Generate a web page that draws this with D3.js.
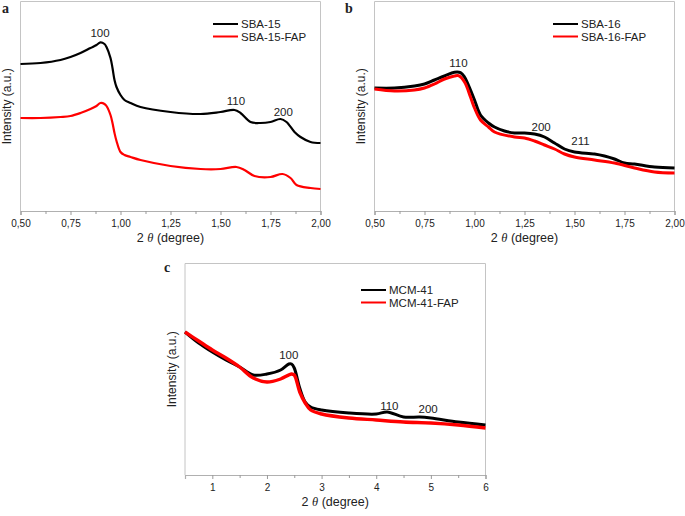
<!DOCTYPE html>
<html><head><meta charset="utf-8">
<script src="https://cdn.jsdelivr.net/npm/d3@7"></script>
<style>
html,body{margin:0;padding:0;background:#fff;}
svg{display:block;font-family:"Liberation Sans",Arial,sans-serif;}
</style></head>
<body>
<svg id="chart" width="685" height="516"></svg>
<script>
// ---------- Panel a (SBA-15) ----------
const aX = [0.50,0.60,0.70,0.75,0.80,0.85,0.88,0.90,0.92,0.93,0.95,0.96,0.97,0.98,1.00,1.02,1.05,1.10,1.25,1.40,1.50,1.57,1.60,1.65,1.70,1.75,1.80,1.83,1.87,1.90,1.95,2.00];
const aSBA15 = [147,148,151,154,158,163,166,168.7,167,164,153,143,131,124,116,111,108,104,99,97,99,101,98,89,88,89,92,89,79,74,69,68];
const aFapX = [0.50,0.60,0.70,0.75,0.80,0.85,0.88,0.90,0.92,0.93,0.95,0.96,0.97,0.98,1.00,1.02,1.05,1.10,1.25,1.40,1.50,1.58,1.62,1.67,1.75,1.81,1.85,1.88,1.95,2.00];
const aSBA15FAP = [93,93,94,95,98,102,105,108,107,105,96,88,78,70,59,56,54,51,45,42,42,44,41,35,34,37,33,26,23,22];
const aTicks = [0.50,0.75,1.00,1.25,1.50,1.75,2.00];
const aPeaks = [{t:"100",x:0.8975,y:174},{t:"110",x:1.5775,y:106},{t:"200",x:1.814,y:95}];

// ---------- Panel b (SBA-16) ----------
const bX = [0.50,0.60,0.70,0.75,0.80,0.85,0.90,0.93,0.95,0.98,1.00,1.03,1.07,1.10,1.15,1.20,1.25,1.30,1.35,1.40,1.45,1.50,1.60,1.65,1.70,1.75,1.80,1.90,2.00];
const bSBA16 = [123,123,125,127,131,135,138.7,138.3,134,121,111,96,88,84,80,78,78,77,74,68,62,59,57,55,52,48,47,44,43];
const bFapX = [0.50,0.60,0.70,0.75,0.80,0.85,0.90,0.92,0.95,0.98,1.00,1.03,1.07,1.10,1.20,1.25,1.30,1.35,1.40,1.45,1.50,1.60,1.70,1.80,1.90,2.00];
const bSBA16FAP = [122,120,121,123,127,132,135,135.3,129,114,103,91,84,79,74,73,70,66,62,57,54,51,48,43,39,38];
const bTicks = [0.50,0.75,1.00,1.25,1.50,1.75,2.00];
const bPeaks = [{t:"110",x:0.92,y:144},{t:"200",x:1.333,y:80},{t:"211",x:1.53,y:66}];

// ---------- Panel c (MCM-41) ----------
const cX = [0.5,0.75,1.0,1.25,1.5,1.75,2.0,2.25,2.4,2.45,2.5,2.6,2.7,2.8,3.0,3.5,4.0,4.2,4.5,4.8,5.0,5.5,6.0];
const cMCM41 = [143,132,123,115,108,100,101,105,111,111,107,87,73,68,65,62,61,63,58,58,57,53,50];
const cFapX = [0.5,0.75,1.0,1.25,1.5,1.75,2.0,2.25,2.45,2.5,2.6,2.7,2.8,3.0,3.5,4.0,4.5,5.0,5.5,6.0];
const cMCM41FAP = [143,134,125,117,108,97,93,96,101,100,83,72,65,61,57,55,53,52,50,47];
const cTicks = [1,2,3,4,5,6];
const cPeaks = [{t:"100",x:2.40,y:116},{t:"110",x:4.24,y:65},{t:"200",x:4.95,y:62}];

const svg = d3.select("#chart");
const frameColor = "#c4c4c4";

function panel(opt){
  const {left,right,top,bottom,xDom,yMax,ticks,minor,fmt,series,labels,letter,letterPos,legend,ylabX} = opt;
  const x = d3.scaleLinear().domain(xDom).range([left,right]);
  const y = d3.scaleLinear().domain([0,yMax]).range([bottom,top]);
  const g = svg.append("g");
  g.append("path").attr("d",`M${left},${bottom}V${top}H${right}V${bottom}`)
    .attr("fill","none").attr("stroke",frameColor).attr("stroke-width",1);
  const ax = g.append("g").attr("transform",`translate(0,${bottom})`)
    .call(d3.axisBottom(x).tickValues(ticks).tickFormat(fmt).tickSize(4).tickPadding(5));
  ax.select(".domain").attr("stroke","#b0b0b0").attr("stroke-width",1.2);
  ax.selectAll(".tick line").attr("stroke","#999");
  ax.selectAll("text").attr("font-size",10).attr("fill","#222").attr("font-family","Liberation Sans, Arial, sans-serif");
  g.append("g").attr("transform",`translate(0,${bottom})`)
    .call(d3.axisBottom(x).tickValues(minor).tickFormat("").tickSize(3))
    .call(s=>{s.select(".domain").remove();s.selectAll(".tick line").attr("stroke","#999");});
  const xt = g.append("text").attr("x",(left+right)/2).attr("y",bottom+31)
    .attr("text-anchor","middle").attr("font-size",12.5).attr("fill","#222");
  xt.append("tspan").text("2 ");
  xt.append("tspan").text("θ").attr("font-style","italic").attr("font-family","Liberation Serif, serif");
  xt.append("tspan").text(" (degree)");
  g.append("text").attr("transform",`translate(${ylabX},${(top+bottom)/2}) rotate(-90)`)
    .attr("text-anchor","middle").attr("font-size",12).attr("fill","#222").text("Intensity (a.u.)");
  const line = d3.line().x(d=>x(d[0])).y(d=>y(d[1])).curve(d3.curveCatmullRom.alpha(0.5));
  series.forEach(s=>{
    g.append("path").datum(d3.zip(s.xs,s.ys)).attr("d",line)
      .attr("fill","none").attr("stroke",s.color).attr("stroke-width",s.w||2.2)
      .attr("stroke-linejoin","round");
  });
  labels.forEach(p=>{
    g.append("text").attr("x",x(p.x)).attr("y",y(p.y)).attr("text-anchor","middle")
      .attr("font-size",11.5).attr("fill","#222").text(p.t);
  });
  g.append("text").attr("x",letterPos[0]).attr("y",letterPos[1]).attr("font-family","Liberation Serif, serif")
    .attr("font-weight","bold").attr("font-size",14).attr("fill","#222").text(letter);
  series.forEach((s,i)=>{
    const ly = legend[1] + i*12.5;
    g.append("line").attr("x1",legend[0]).attr("x2",legend[0]+25).attr("y1",ly).attr("y2",ly)
      .attr("stroke",s.color).attr("stroke-width",2);
    g.append("text").attr("x",legend[0]+28).attr("y",ly+4).attr("font-size",11.5).attr("fill","#222").text(s.name);
  });
}

const f2 = d=>d3.format(".2f")(d).replace(".",",");
panel({left:20.5,right:320.5,top:1.5,bottom:211,xDom:[0.5,2.0],yMax:209.5,ticks:aTicks,
  minor:[0.625,0.875,1.125,1.375,1.625,1.875],fmt:f2,
  series:[{xs:aX,ys:aSBA15,color:"#000",name:"SBA-15"},{xs:aFapX,ys:aSBA15FAP,color:"#ff0000",name:"SBA-15-FAP"}],
  labels:aPeaks,letter:"a",letterPos:[2,13],legend:[213,24],ylabX:11});
panel({left:374.5,right:674.5,top:1.5,bottom:211,xDom:[0.5,2.0],yMax:209.5,ticks:bTicks,
  minor:[0.625,0.875,1.125,1.375,1.625,1.875],fmt:f2,
  series:[{xs:bX,ys:bSBA16,color:"#000",name:"SBA-16",w:3},{xs:bFapX,ys:bSBA16FAP,color:"#ff0000",name:"SBA-16-FAP",w:3}],
  labels:bPeaks,letter:"b",letterPos:[345,13],legend:[553,24],ylabX:365});
panel({left:185,right:485.5,top:263.5,bottom:475,xDom:[0.5,6.0],yMax:211.5,ticks:cTicks,
  minor:[1.5,2.5,3.5,4.5,5.5],fmt:d3.format("d"),
  series:[{xs:cX,ys:cMCM41,color:"#000",name:"MCM-41",w:3},{xs:cFapX,ys:cMCM41FAP,color:"#ff0000",name:"MCM-41-FAP",w:3.4}],
  labels:cPeaks,letter:"c",letterPos:[164,272],legend:[361,290],ylabX:176});
</script>
</body></html>
